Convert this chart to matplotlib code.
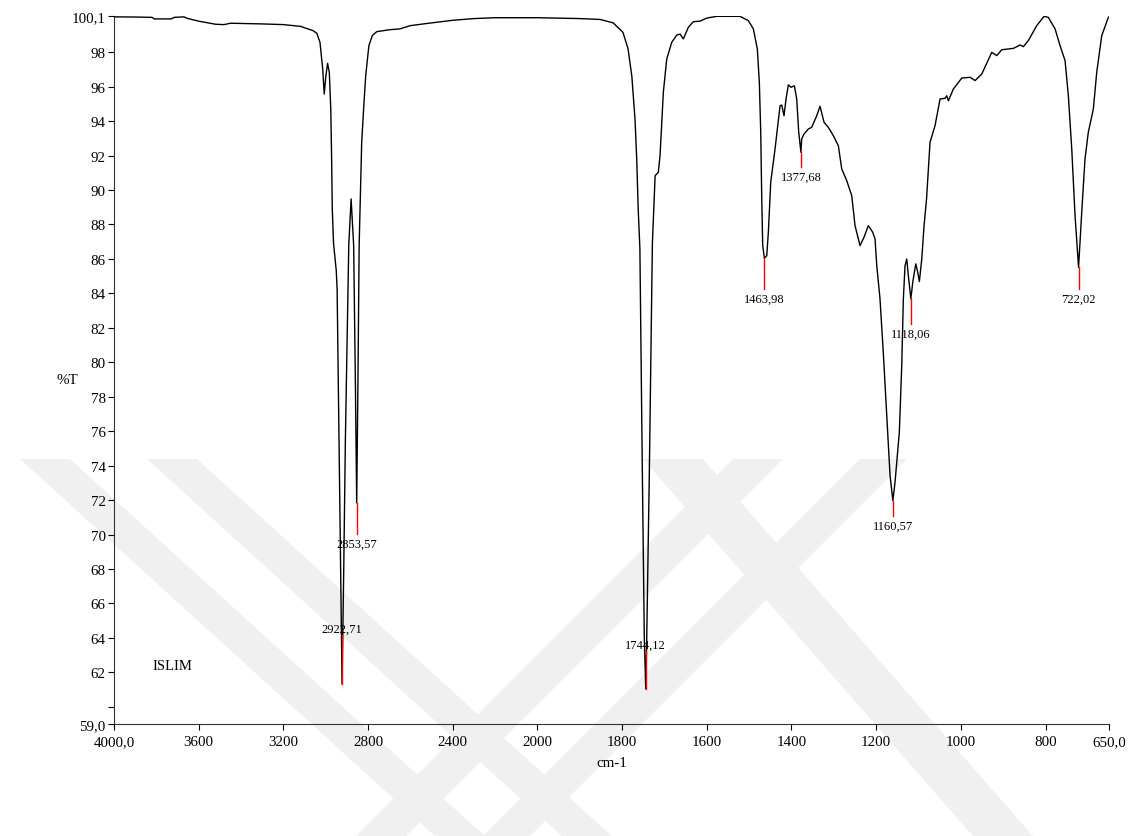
import matplotlib.pyplot as plt
from matplotlib.patches import Polygon
import numpy as np

plt.rcParams['font.family'] = ['Liberation Serif', 'DejaVu Serif']

# FTIR spectrum (wavenumber in cm-1, %T)
wavenumber = [
    4000, 3900, 3820, 3810, 3730, 3715, 3670, 3650, 3600, 3520, 3480, 3450,
    3300, 3200, 3120, 3060, 3042, 3027, 3014, 3007, 2999, 2991, 2983, 2976,
    2972, 2969, 2963, 2955, 2950, 2946, 2937, 2929, 2922.71, 2915, 2907,
    2891, 2880, 2868, 2860, 2853.57, 2848, 2842, 2830, 2819, 2811, 2796,
    2780, 2759, 2700, 2650, 2600, 2500, 2400, 2300, 2200, 2000,
    1900, 1852, 1821, 1798, 1786, 1777, 1769.5, 1765.5, 1762, 1758, 1752.2,
    1747.5, 1744.12, 1741.9, 1735.7, 1728.5, 1722, 1714.5, 1710.4, 1702.6,
    1694.6, 1682.8, 1671, 1663, 1655.4, 1643.6, 1631.8, 1616, 1600, 1576.5,
    1521.5, 1501.9, 1490, 1480.6, 1475.9, 1472.6, 1470.2, 1467.9, 1463.98,
    1458.4, 1454.6, 1449, 1438.8, 1427, 1423, 1417.6, 1412.9, 1407.4, 1401,
    1393.2, 1387.6, 1382.9, 1377.68, 1375.9, 1370.4, 1360.2, 1352.2, 1340.4,
    1332.6, 1323.1, 1313, 1301.1, 1289.3, 1281.3, 1269.5, 1257.7, 1249.9,
    1238.1, 1228.7, 1218.5, 1208.2, 1202.7, 1198.6, 1191, 1183, 1175, 1167.2,
    1160.57, 1155.4, 1145.3, 1139.6, 1135.8, 1131.8, 1127.8, 1124, 1118.06,
    1113.6, 1106.5, 1101.8, 1098, 1092.3, 1086.9, 1081, 1072.8, 1061, 1049.1,
    1037.3, 1033.3, 1029.4, 1017.7, 997.8, 978.2, 966.4, 950.6, 927, 915.2,
    903.4, 876, 860, 852.4, 840.6, 820.8, 803.5, 793.4, 777.5, 765.7, 753.9,
    746.1, 738.1, 730.3, 722.02, 714.5, 706.8, 699, 687.1, 679.1, 667.3,
    651.7, 650,
]
transmittance = [
    100.05, 100.04, 100.02, 99.93, 99.93, 100.02, 100.05, 99.95, 99.8, 99.62,
    99.6, 99.68, 99.64, 99.6, 99.5, 99.25, 99.1, 98.57, 97.0, 95.57, 96.64,
    97.35, 96.83, 94.7, 91.8, 88.9, 86.9, 85.9, 85.3, 84.2, 75.5, 67.8, 61.33,
    67.8, 75.55, 86.8, 89.48, 86.8, 79.0, 71.84, 78.5, 86.8, 92.77, 95.09,
    96.64, 98.38, 98.96, 99.19, 99.3, 99.35, 99.54, 99.7, 99.85, 99.95,
    100.0, 100.0,
    99.95, 99.9, 99.7, 99.15, 98.2, 96.6, 94.1, 91.8, 88.9, 86.6, 73.6, 63.9,
    61.04, 63.9, 73.6, 86.9, 90.83, 91.03, 92.0, 95.67, 97.6, 98.57, 98.99,
    99.05, 98.77, 99.44, 99.77, 99.8, 99.98, 100.08, 100.08, 99.83, 99.35,
    98.18, 96.25, 93.35, 89.48, 86.77, 86.04, 86.19, 87.55, 90.45, 92.38,
    94.89, 94.93, 94.31, 95.28, 96.1, 95.96, 96.05, 95.28, 93.35, 92.19,
    92.96, 93.25, 93.54, 93.64, 94.31, 94.86, 93.93, 93.64, 93.15, 92.57,
    91.22, 90.54, 89.67, 87.93, 86.77, 87.26, 87.93, 87.55, 87.16, 85.61,
    83.7, 80.5, 76.9, 73.42, 71.97, 73.04, 75.94, 79.8, 83.68, 85.61, 85.99,
    85.03, 83.68, 84.64, 85.71, 85.22, 84.68, 85.99, 87.93, 89.48, 92.77,
    93.73, 95.28, 95.32, 95.47, 95.18, 95.86, 96.5, 96.54, 96.35, 96.73,
    97.99, 97.8, 98.14, 98.22, 98.42, 98.32, 98.67, 99.54, 100.08, 100.02,
    99.35, 98.38, 97.51, 95.47, 92.38, 88.51, 85.51, 88.71, 91.8, 93.35,
    94.7, 96.83, 98.96, 100.02, 100.05,
]

# labelled peaks: position, %T at the tip, and where the red marker stops
peak_wn = [2922.71, 2853.57, 1744.12, 1463.98, 1377.68, 1160.57, 1118.06, 722.02]
peak_t = [61.33, 71.84, 61.04, 86.04, 92.19, 71.97, 83.68, 85.51]
marker_end = [64.17, 70.04, 63.24, 84.26, 91.34, 71.08, 82.22, 84.26]

xticks = [4000, 3600, 3200, 2800, 2400, 2000, 1800, 1600, 1400, 1200, 1000, 800, 650]
xtick_labels = ["4000,0", "3600", "3200", "2800", "2400", "2000", "1800",
                "1600", "1400", "1200", "1000", "800", "650,0"]
yticks = [59, 60, 62, 64, 66, 68, 70, 72, 74, 76, 78, 80, 82, 84, 86, 88,
          90, 92, 94, 96, 98, 100.1]
ytick_labels = ["59,0", ""] + [str(v) for v in range(62, 100, 2)] + ["100,1"]


# the instrument doubles the x scale below 2000 cm-1
def forward(w):
    w = np.asarray(w, dtype=float)
    return np.where(w >= 2000, w, 2 * w - 2000)


def inverse(t):
    t = np.asarray(t, dtype=float)
    return np.where(t >= 2000, t, (t + 2000) / 2)


fig = plt.figure(figsize=(11.41, 8.37), dpi=100)

# faint diagonal watermark bands behind the plot (pixel coords, y from top)
H = 837
for x0, w, slope in [(20, 50, 1.1), (147, 50, 1.1), (643, 60, 0.875),
                     (733, 50, -1.0), (860, 47, -1.0)]:
    dx = slope * (H - 460)
    pts = [(x0, H - 460), (x0 + w, H - 460), (x0 + w + dx, 0), (x0 + dx, 0)]
    fig.add_artist(Polygon(pts, closed=True, transform=None,
                           facecolor='#f0f0f0', edgecolor='none', zorder=-5))

ax = fig.add_axes([0.0999, 0.1338, 0.8721, 0.8459])
ax.patch.set_alpha(0)

ax.set_xscale('function', functions=(forward, inverse))
ax.plot(wavenumber, transmittance, color='black', lw=1.0, zorder=3)

for w, t, e in zip(peak_wn, peak_t, marker_end):
    ax.plot([w, w], [t, e], color='#ff0000', lw=1.0, zorder=4)
    label = f"{w:.2f}".replace('.', ',')
    if e > t:
        ax.annotate(label, xy=(w, e), xytext=(0, 0.5), textcoords='offset points',
                    ha='center', va='bottom', fontsize=9, zorder=5)
    else:
        ax.annotate(label, xy=(w, e), xytext=(0, -2.5), textcoords='offset points',
                    ha='center', va='top', fontsize=9, zorder=5)

ax.text(3724, 62.4, "ISLIM", ha='center', va='center', fontsize=10.5)

ax.set_xlim(4000, 650)
ax.set_ylim(59, 100.1)
ax.set_xticks(xticks)
ax.set_xticklabels(xtick_labels)
ax.set_yticks(yticks)
ax.set_yticklabels(ytick_labels)
ax.minorticks_off()
ax.tick_params(direction='out', length=4, width=0.8, labelsize=10.8, pad=2)
ax.tick_params(axis='x', pad=4)

for side in ['top', 'right']:
    ax.spines[side].set_visible(False)
for side in ['left', 'bottom']:
    ax.spines[side].set_linewidth(0.8)
    ax.spines[side].set_color('#333333')

ax.set_xlabel("cm-1", fontsize=10.8, labelpad=5.5)
ax.set_ylabel("%T", fontsize=10.8, rotation=0, ha='center', va='center')
ax.yaxis.set_label_coords(-0.047, 0.487)

plt.savefig("out.png", dpi=100)
